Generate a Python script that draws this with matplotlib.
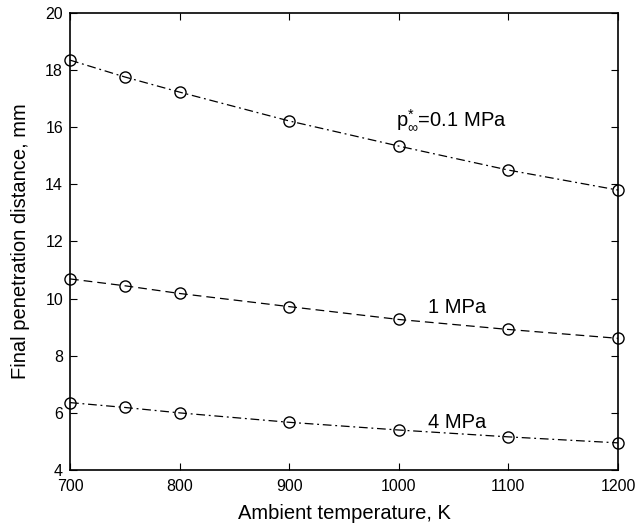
import matplotlib
matplotlib.use('Agg')
import matplotlib.pyplot as plt

plt.rcParams['font.family'] = ['Liberation Sans', 'DejaVu Sans']
plt.rcParams['mathtext.fontset'] = 'custom'
plt.rcParams['mathtext.rm'] = 'Liberation Sans'
plt.rcParams['mathtext.it'] = 'Liberation Sans'

temperature = [700, 750, 800, 900, 1000, 1100, 1200]
pen_01mpa = [18.35, 17.76, 17.23, 16.22, 15.34, 14.50, 13.80]
pen_1mpa = [10.69, 10.45, 10.18, 9.72, 9.27, 8.92, 8.61]
pen_4mpa = [6.36, 6.19, 6.00, 5.67, 5.40, 5.16, 4.95]

fig = plt.figure(figsize=(6.38, 5.30), dpi=100)
ax = fig.add_axes([0.1097, 0.1132, 0.859, 0.8623])

style = dict(color='black', lw=0.9, marker='o', markersize=8,
             markerfacecolor='none', markeredgewidth=1.0, clip_on=False)
ax.plot(temperature, pen_01mpa, linestyle=(0, (7, 3, 1.5, 3)), **style)
ax.plot(temperature, pen_1mpa, linestyle=(0, (7, 4)), **style)
ax.plot(temperature, pen_4mpa, linestyle=(0, (7, 3, 1.5, 3)), **style)

ax.text(997, 16.25, r'$\mathrm{p}^{*}_{\infty}$=0.1 MPa', fontsize=14.5, va='center')
ax.text(1027, 9.7, '1 MPa', fontsize=14.5, va='center')
ax.text(1027, 5.68, '4 MPa', fontsize=14.5, va='center')

ax.set_xlim(700, 1200)
ax.set_ylim(4, 20)
ax.set_xticks(range(700, 1201, 100))
ax.set_yticks(range(4, 21, 2))
ax.tick_params(direction='in', top=True, right=True, labelsize=11.5, length=5)
ax.tick_params(axis='x', pad=6.5)
ax.tick_params(axis='y', pad=5)
for s in ax.spines.values():
    s.set_linewidth(1.2)

ax.set_xlabel('Ambient temperature, K', fontsize=14.5, labelpad=7)
ax.set_ylabel('Final penetration distance, mm', fontsize=14.5, labelpad=11)

fig.savefig('out.png', dpi=100)
